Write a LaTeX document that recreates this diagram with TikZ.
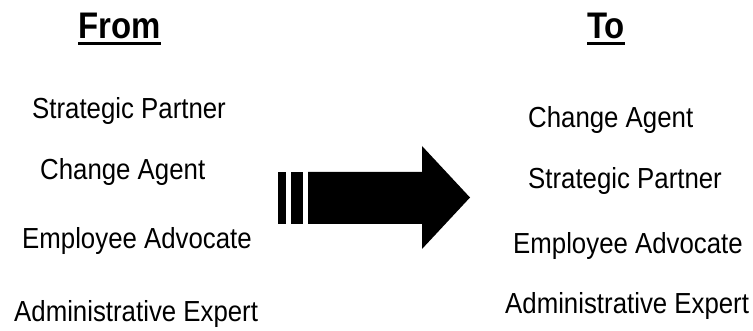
\documentclass[tikz,border=0pt]{standalone}
\usepackage{fontspec}
\setmainfont{Liberation Sans}
\newfontfamily\narrowfont[FakeStretch=0.89]{Liberation Sans}
\begin{document}
\begin{tikzpicture}[x=1pt,y=-1pt,
  item/.style={anchor=base west,inner sep=0pt,font=\narrowfont\fontsize{29}{31}\selectfont},
  heading/.style={anchor=base west,inner sep=0pt,font=\narrowfont\bfseries\fontsize{37}{40}\selectfont},
  uline/.style={line width=3pt}]
\useasboundingbox (0,0) rectangle (753,331);
% headings
\node[heading] (from) at (78,39) {From};
\node[heading] (to) at (587,39) {To};
\draw[uline] ([yshift=-4.5pt]from.base west) -- ([yshift=-4.5pt]from.base east);
\draw[uline] ([yshift=-4.5pt]to.base west) -- ([yshift=-4.5pt]to.base east);
% left column
\node[item] (l1) at (32,119) {Strategic Partner};
\node[item] (l2) at (40,180) {Change Agent};
\node[item] (l3) at (22,249) {Employee Advocate};
\node[item] (l4) at (14,322) {Administrative Expert};
% right column
\node[item] (r1) at (528,128) {Change Agent};
\node[item] (r2) at (528,189) {Strategic Partner};
\node[item] (r3) at (513,254) {Employee Advocate};
\node[item] (r4) at (505,314) {Administrative Expert};
% arrow
\fill (278,172) rectangle (286,224);
\fill (291,172) rectangle (303,224);
\fill (308,172) -- (422,172) -- (422,146) -- (470,197.5) -- (422,249) -- (422,224) -- (308,224) -- cycle;
\end{tikzpicture}
\end{document}
